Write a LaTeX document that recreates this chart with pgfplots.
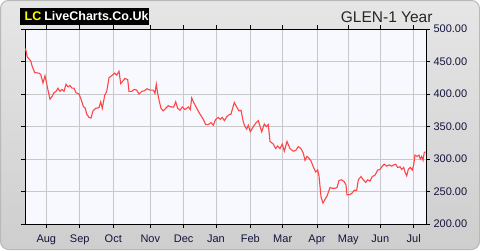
\documentclass[border=0pt]{standalone}
\usepackage{fontspec}
\setmainfont{Liberation Sans}
\usepackage{pgfplots}
\pgfplotsset{compat=1.18}
\definecolor{bgtop}{RGB}{230,230,230}
\definecolor{bgbot}{RGB}{206,206,206}
\definecolor{plotbg}{RGB}{248,248,255}
\definecolor{gridc}{RGB}{200,200,200}
\definecolor{linec}{RGB}{255,70,70}
\definecolor{tickc}{RGB}{20,20,60}
\definecolor{lcyellow}{RGB}{255,255,0}
\pgfplotstableread{
x y
25.5 470
27.3 457
30.7 451
32.3 442
34.7 433
39 432
40.7 430
43 417
45 428
46.7 416
48 406
50 392
52 396
54 402
56 404
58 409
60 404
62 407
64 404
66 415
68 411
70 413
72 409
74 409
76 402
79 400
81.3 391
83.3 381
85.3 378
86.7 369
89 364
91 363
93 374
95.7 378
99 379
100.7 388
102.3 378
104.7 398
106.7 404
109 425
112.3 429
114.7 432
116.7 429
119 435
120.7 416
124 422
125 424
127.7 422
129 404
131.7 404
134 407
136.7 406
139 400
141.7 404
144.3 405
147 408
150 406
153.3 406
155 401
156.3 415
157.7 401
159 391
161 378
163.3 374
165.7 378
168.3 382
171 380
173.7 380
175.7 388
177.7 378
180 375
182.3 380
185 376
188.3 380
190.3 376
191.7 394
193.7 387
196.7 378
200 369
203.3 361
205.7 353
208.3 353
211 356
213.3 352
215.7 361
218.3 364
220.3 361
222.3 364
224.3 359
226.7 365
229 368
231 369
234.3 387
236.7 380
239 374
241 375
243.3 357
245 350
246.7 346
248.3 352
250.3 342
253 349
255.7 355
258.3 359
261.7 342
264.3 354
266.3 350
268.3 353
270 327
273.3 323
275.7 316
277.7 320
280 316
282.3 323
284.3 312
287 327
290 316
293.3 312
295.7 313
298.3 319
301 316
303.3 309
305 298
307 304
309 301
311 297
313.3 288
315.7 280
317.7 283
319 274
321 242
323 232
325 238
327 243
330 256
332.3 255
335 255
337 256
339 267
341.7 268
344.3 265
346 260
347 245
349 245
351.7 247
354.3 252
356.7 252
358.3 268
361 273
363.3 268
365.7 264
367.7 268
370 266
372.3 273
375 275
377.7 283
380 284
382.3 289
384.3 292
386.7 289
389 291
391.7 289
393.7 291
395.7 292
397.7 287
400 288
401.7 284
403.7 287
405 280
406.7 274
408.3 284
410.3 287
412.3 283
413.7 291
415 306
417 304
419 306
420.3 300
421.7 304
423 298
424.3 310
425.7 311
}\glen
\begin{document}
\begin{tikzpicture}
\useasboundingbox (0pt,0pt) rectangle (480pt,250pt);
\fill[white] (0pt,0pt) rectangle (480pt,250pt);
\shadedraw[top color=bgtop,bottom color=bgbot,rounded corners=8pt,draw=gray!55,line width=1pt] (0.5pt,0.5pt) rectangle (479.5pt,249.5pt);
\fill[black] (20pt,225pt) rectangle (148.7pt,242.3pt);
\node[anchor=base west,inner sep=0pt,font=\fontsize{12.5}{14}\selectfont\bfseries] at (24.5pt,229.2pt) {\textcolor{lcyellow}{LC}\hspace{3pt}\textcolor{white}{LiveCharts.Co.Uk}};
\node[anchor=base east,inner sep=0pt,font=\fontsize{15.5}{18}\selectfont,text=black!85] at (432.7pt,228pt) {GLEN-1 Year};
\begin{axis}[
  at={(25pt,26pt)}, anchor=south west, scale only axis,
  width=401pt, height=195pt,
  xmin=25, xmax=426, ymin=200, ymax=500,
  axis background/.style={fill=plotbg},
  axis line style={black, line width=1pt},
  grid=major, major grid style={gridc, line width=1pt},
  xtick={46.3,79.7,113.3,150.3,183.7,216,250.3,282.7,317,348.3,380.3,413.7},
  xticklabels={Aug,Sep,Oct,Nov,Dec,Jan,Feb,Mar,Apr,May,Jun,Jul},
  ytick={200,250,...,500},
  yticklabel pos=right,
  tick align=outside,
  major tick length=4pt,
  tick style={black, line width=0.8pt},
  ticklabel style={font=\fontsize{11}{13}\selectfont, text=tickc},
  xticklabel style={yshift=-3pt},
  /pgf/number format/assume math mode=true,
  y tick label style={/pgf/number format/.cd, fixed, fixed zerofill, precision=2},
]
\addplot[linec, line width=1.1pt, no markers] table[x=x,y=y] {\glen};
\end{axis}
\end{tikzpicture}
\end{document}
